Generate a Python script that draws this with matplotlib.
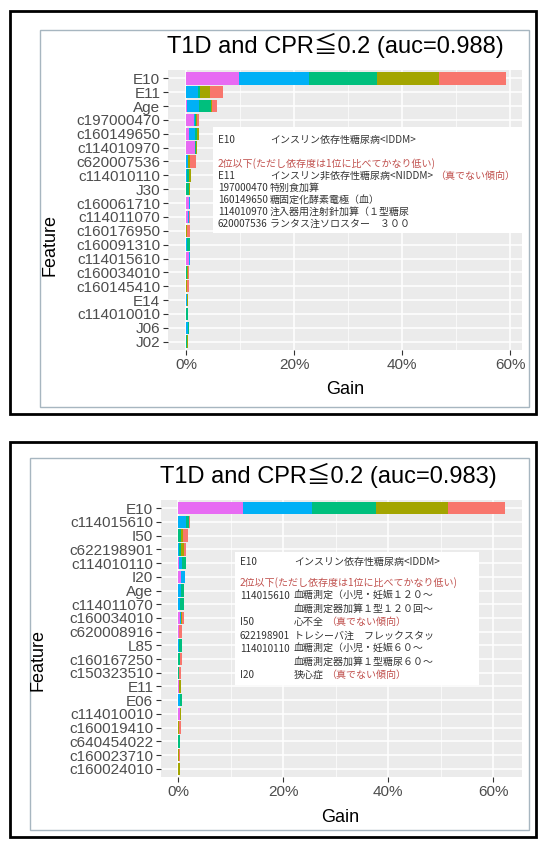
import numpy as np
import matplotlib
matplotlib.use("Agg")
import matplotlib.pyplot as plt
from matplotlib.patches import Rectangle

plt.rcParams['font.family'] = ['Liberation Sans', 'Noto Sans CJK JP', 'DejaVu Sans']

W, H = 539, 842

# class colours (ggplot hue palette), stacked left to right
seg_colors = ['#E76BF3', '#00B0F6', '#00BF7D', '#A3A500', '#F8766D']

# ---- top chart data (gain in %) ----
title_top = 'T1D and CPR≦0.2 (auc=0.988)'
features_top = ['E10', 'E11', 'Age', 'c197000470', 'c160149650', 'c114010970',
                'c620007536', 'c114010110', 'J30', 'c160061710', 'c114011070',
                'c160176950', 'c160091310', 'c114015610', 'c160034010',
                'c160145410', 'E14', 'c114010010', 'J06', 'J02']
pink_top = [9.8, 0.0, 0.1, 1.5, 0.5, 1.7, 0.0, 0.0, 0.0, 0.6, 0.4, 0.0, 0.0, 0.6, 0.0, 0.0, 0.0, 0.0, 0.0, 0.0]
blue_top = [13.0, 2.3, 2.3, 0.1, 1.2, 0.0, 0.4, 0.1, 0.0, 0.1, 0.1, 0.0, 0.1, 0.1, 0.0, 0.0, 0.1, 0.0, 0.4, 0.0]
green_top = [12.6, 0.3, 2.3, 0.3, 0.3, 0.1, 0.0, 0.5, 0.5, 0.0, 0.1, 0.0, 0.6, 0.0, 0.1, 0.0, 0.1, 0.3, 0.1, 0.2]
olive_top = [11.5, 1.9, 0.2, 0.2, 0.4, 0.3, 0.3, 0.3, 0.3, 0.0, 0.0, 0.1, 0.0, 0.0, 0.3, 0.1, 0.1, 0.1, 0.0, 0.2]
salmon_top = [12.4, 2.3, 0.8, 0.3, 0.1, 0.0, 1.2, 0.0, 0.0, 0.0, 0.2, 0.6, 0.0, 0.0, 0.2, 0.5, 0.1, 0.0, 0.0, 0.0]

notes_top = [
    ('E10', 'インスリン依存性糖尿病<IDDM>', ''),
    None,
    ('2位以下(ただし依存度は1位に比べてかなり低い)',),
    ('E11', 'インスリン非依存性糖尿病<NIDDM>', '（真でない傾向）'),
    ('197000470', '特別食加算', ''),
    ('160149650', '糖固定化酵素電極（血）', ''),
    ('114010970', '注入器用注射針加算（１型糖尿', ''),
    ('620007536', 'ランタス注ソロスター　３００', ''),
]

# ---- bottom chart data ----
title_bot = 'T1D and CPR≦0.2 (auc=0.983)'
features_bot = ['E10', 'c114015610', 'I50', 'c622198901', 'c114010110', 'I20',
                'Age', 'c114011070', 'c160034010', 'c620008916', 'L85',
                'c160167250', 'c150323510', 'E11', 'E06', 'c114010010',
                'c160019410', 'c640454022', 'c160023710', 'c160024010']
pink_bot = [12.4, 0.0, 0.0, 0.0, 0.1, 0.6, 0.0, 0.0, 0.45, 0.2, 0.0, 0.0, 0.0, 0.25, 0.0, 0.3, 0.0, 0.0, 0.0, 0.0]
blue_bot = [13.1, 1.6, 0.0, 0.1, 0.75, 0.8, 0.6, 0.45, 0.1, 0.0, 0.1, 0.0, 0.0, 0.0, 0.4, 0.0, 0.0, 0.0, 0.0, 0.0]
green_bot = [12.2, 0.4, 0.6, 0.45, 0.6, 0.0, 0.6, 0.75, 0.0, 0.0, 0.65, 0.3, 0.25, 0.0, 0.3, 0.0, 0.0, 0.45, 0.0, 0.0]
olive_bot = [13.7, 0.0, 0.3, 0.6, 0.0, 0.0, 0.0, 0.0, 0.3, 0.0, 0.0, 0.0, 0.0, 0.4, 0.0, 0.3, 0.1, 0.0, 0.2, 0.4]
salmon_bot = [10.9, 0.25, 1.0, 0.45, 0.0, 0.0, 0.0, 0.0, 0.3, 0.55, 0.0, 0.4, 0.35, 0.0, 0.0, 0.0, 0.45, 0.0, 0.2, 0.0]

notes_bot = [
    ('E10', 'インスリン依存性糖尿病<IDDM>', ''),
    None,
    ('2位以下(ただし依存度は1位に比べてかなり低い)',),
    ('114015610', '血糖測定（小児・妊娠１２０～', ''),
    ('', '血糖測定器加算１型１２０回～', ''),
    ('I50', '心不全', '（真でない傾向）'),
    ('622198901', 'トレシーバ注　フレックスタッ', ''),
    ('114010110', '血糖測定（小児・妊娠６０～', ''),
    ('', '血糖測定器加算１型糖尿６０～', ''),
    ('I20', '狭心症', '（真でない傾向）'),
]

xticks = [0, 20, 40, 60]
xticklabels = ['0%', '20%', '40%', '60%']

fig = plt.figure(figsize=(W / 100, H / 100), dpi=100)
ov = fig.add_axes([0, 0, 1, 1], zorder=10)
ov.set_xlim(0, W)
ov.set_ylim(H, 0)
ov.axis('off')
ov.patch.set_alpha(0)

red = '#C0504D'
jp = ['Noto Sans CJK JP', 'DejaVu Sans']
note_size = 7.2


def px_box(x0, y0, x1, y1):
    return [x0 / W, 1 - y1 / H, (x1 - x0) / W, (y1 - y0) / H]


def draw_panel(features, segs, title, notes, g):
    # frames
    ov.add_patch(Rectangle((g['outer'][0], g['outer'][1]), g['outer'][2] - g['outer'][0],
                           g['outer'][3] - g['outer'][1], fill=False, ec='black', lw=2))
    ov.add_patch(Rectangle((g['inner'][0], g['inner'][1]), g['inner'][2] - g['inner'][0],
                           g['inner'][3] - g['inner'][1], fill=False, ec='#A7B6C0', lw=1))

    ax = fig.add_axes(px_box(*g['axes']))
    ax.set_facecolor('#EBEBEB')
    n = len(features)
    y = np.arange(n)
    left = np.zeros(n)
    for vals, c in zip(segs, seg_colors):
        vals = np.array(vals)
        ax.barh(y, vals, left=left, height=0.9, color=c, linewidth=0, zorder=3)
        left += vals
    ax.set_ylim(n - 0.4, -0.6)
    ax.set_xlim(*g['xlim'])
    ax.set_yticks(y)
    ax.set_yticklabels(features)
    ax.set_xticks(xticks)
    ax.set_xticklabels(xticklabels)
    ax.set_xticks([10, 30, 50], minor=True)
    ax.grid(which='major', color='white', lw=1.1, zorder=1)
    ax.grid(which='minor', axis='x', color='white', lw=0.5, zorder=1)
    ax.tick_params(which='major', length=3.5, width=0.8, color='#333333',
                   labelcolor='#4D4D4D', labelsize=11, pad=2)
    ax.tick_params(which='minor', length=0)
    for s in ax.spines.values():
        s.set_visible(False)

    ov.text(g['title'][0], g['title'][1], title, fontsize=17, ha='center', va='center')
    ov.text(g['gain'][0], g['gain'][1], 'Gain', fontsize=13, ha='center', va='center')
    ov.text(g['feat'][0], g['feat'][1], 'Feature', fontsize=13, ha='center',
            va='center', rotation=90)

    # annotation box
    bx0, by0, bx1, by1 = g['box']
    ov.add_patch(Rectangle((bx0, by0), bx1 - bx0, by1 - by0, fc='white', ec='none'))
    ys = g['lines']
    k = 0
    for item in notes:
        if item is None:
            continue
        yy = ys[k]
        k += 1
        if len(item) == 1:
            ov.text(g['col1'], yy, item[0], color=red, fontsize=note_size, family=jp, va='center')
            continue
        code, desc, warn = item
        ov.text(g['col1'], yy, code, color='#333333', fontsize=note_size, family=jp, va='center')
        t = ov.text(g['col2'], yy, desc, color='#333333', fontsize=note_size, family=jp, va='center')
        if warn:
            fig.canvas.draw()
            bb = t.get_window_extent()
            ov.text(g['col2'] + bb.width + 2, yy, warn, color=red, fontsize=note_size,
                    family=jp, va='center')


geom_top = dict(outer=(10, 11, 536, 414), inner=(40, 30, 529, 407),
                axes=(168, 70, 522, 350), xlim=(-3.33, 62.2),
                title=(335, 45), gain=(345, 390), feat=(50, 245),
                box=(213, 127, 528, 233), col1=218, col2=270,
                lines=[140, 164, 176, 188, 200, 212, 224])
geom_bot = dict(outer=(10, 442, 536, 837), inner=(30, 458, 529, 830),
                axes=(161, 500, 522, 777), xlim=(-3.24, 65.5),
                title=(328, 475), gain=(340, 817), feat=(38, 660),
                box=(235, 552, 479, 685), col1=240, col2=294,
                lines=[562, 583, 596, 609, 622, 636, 649, 662, 675])

draw_panel(features_top, [pink_top, blue_top, green_top, olive_top, salmon_top],
           title_top, notes_top, geom_top)
draw_panel(features_bot, [pink_bot, blue_bot, green_bot, olive_bot, salmon_bot],
           title_bot, notes_bot, geom_bot)

fig.savefig('out.png', dpi=100, facecolor='white')
